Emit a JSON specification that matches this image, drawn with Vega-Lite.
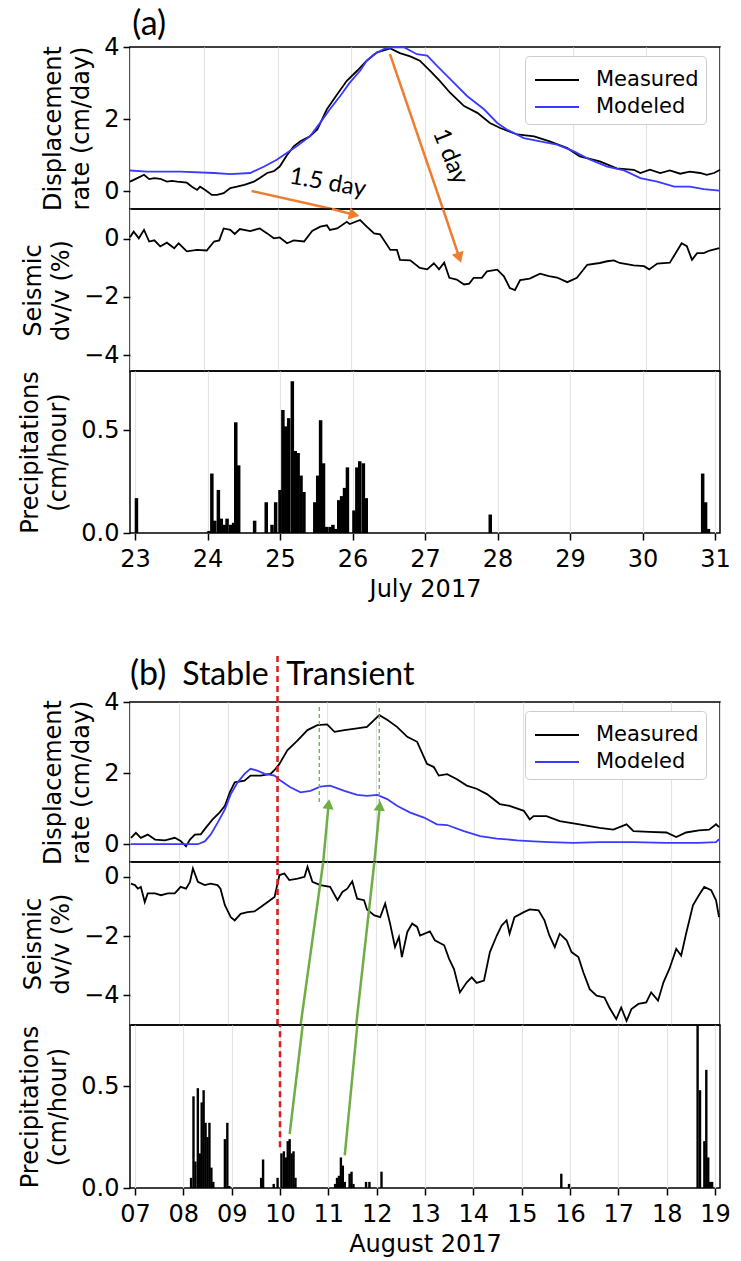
{
  "$schema": "https://vega.github.io/schema/vega-lite/v6.json",
  "padding": {"left": 18, "top": 7, "right": 8, "bottom": 5},
  "background": "white",
  "config": {
    "view": {"stroke": "black", "strokeWidth": 1.5},
    "axis": {"labelFont": "DejaVu Sans", "titleFont": "DejaVu Sans", "labelFontSize": 24, "titleFontSize": 24, "titleFontWeight": "normal", "labelColor": "black", "titleColor": "black", "tickColor": "black", "tickWidth": 1.5, "tickSize": 7, "domain": false, "gridColor": "#e3e3e3", "gridWidth": 1.2, "labelPadding": 4, "titlePadding": 10, "titleLineHeight": 28, "labelFlush": false},
    "legend": {"title": null, "orient": "none", "legendX": 395, "legendY": 9, "symbolType": "M-1.375,0H1.375", "symbolSize": 1024, "symbolStrokeWidth": 2, "symbolOffset": 8, "labelFont": "DejaVu Sans", "labelFontSize": 21, "labelColor": "black", "labelOffset": 22, "padding": 7, "rowPadding": 0, "strokeColor": "#cccccc", "fillColor": "white", "cornerRadius": 4},
    "text": {"font": "Lato"}
  },
  "datasets": {
    "dispA_meas": [{"t":23.00,"v":0.26},{"t":23.05,"v":0.31},{"t":23.12,"v":0.38},{"t":23.19,"v":0.45},{"t":23.26,"v":0.33},{"t":23.33,"v":0.36},{"t":23.41,"v":0.34},{"t":23.50,"v":0.26},{"t":23.57,"v":0.28},{"t":23.64,"v":0.26},{"t":23.77,"v":0.23},{"t":23.84,"v":0.12},{"t":23.91,"v":0.03},{"t":23.95,"v":0.12},{"t":24.02,"v":0.03},{"t":24.11,"v":-0.11},{"t":24.18,"v":-0.11},{"t":24.27,"v":-0.06},{"t":24.36,"v":0.08},{"t":24.45,"v":0.12},{"t":24.55,"v":0.17},{"t":24.68,"v":0.26},{"t":24.76,"v":0.36},{"t":24.86,"v":0.50},{"t":24.95,"v":0.55},{"t":25.03,"v":0.68},{"t":25.13,"v":1.00},{"t":25.22,"v":1.24},{"t":25.31,"v":1.38},{"t":25.44,"v":1.52},{"t":25.54,"v":1.71},{"t":25.67,"v":2.27},{"t":25.81,"v":2.69},{"t":25.94,"v":3.06},{"t":26.08,"v":3.34},{"t":26.21,"v":3.62},{"t":26.35,"v":3.85},{"t":26.53,"v":3.96},{"t":26.66,"v":3.83},{"t":26.80,"v":3.74},{"t":26.93,"v":3.62},{"t":27.07,"v":3.34},{"t":27.20,"v":3.06},{"t":27.34,"v":2.73},{"t":27.53,"v":2.36},{"t":27.71,"v":2.17},{"t":27.88,"v":1.89},{"t":28.02,"v":1.75},{"t":28.25,"v":1.57},{"t":28.48,"v":1.52},{"t":28.69,"v":1.38},{"t":28.93,"v":1.19},{"t":29.10,"v":0.96},{"t":29.37,"v":0.82},{"t":29.60,"v":0.63},{"t":29.83,"v":0.59},{"t":29.92,"v":0.50},{"t":30.05,"v":0.59},{"t":30.19,"v":0.50},{"t":30.32,"v":0.57},{"t":30.46,"v":0.48},{"t":30.59,"v":0.54},{"t":30.73,"v":0.50},{"t":30.82,"v":0.45},{"t":30.92,"v":0.50},{"t":31.00,"v":0.59}],
    "dispA_mod": [{"t":23.00,"v":0.57},{"t":23.23,"v":0.54},{"t":23.68,"v":0.54},{"t":24.14,"v":0.50},{"t":24.36,"v":0.47},{"t":24.63,"v":0.50},{"t":24.82,"v":0.68},{"t":24.99,"v":0.87},{"t":25.13,"v":1.06},{"t":25.26,"v":1.24},{"t":25.44,"v":1.52},{"t":25.58,"v":1.90},{"t":25.71,"v":2.27},{"t":25.85,"v":2.64},{"t":25.98,"v":3.01},{"t":26.12,"v":3.34},{"t":26.21,"v":3.62},{"t":26.31,"v":3.80},{"t":26.44,"v":3.94},{"t":26.58,"v":4.0},{"t":26.72,"v":3.99},{"t":26.89,"v":3.80},{"t":27.03,"v":3.76},{"t":27.16,"v":3.48},{"t":27.39,"v":3.01},{"t":27.57,"v":2.64},{"t":27.80,"v":2.27},{"t":27.98,"v":1.89},{"t":28.11,"v":1.71},{"t":28.34,"v":1.47},{"t":28.56,"v":1.38},{"t":28.79,"v":1.29},{"t":29.02,"v":1.10},{"t":29.24,"v":0.87},{"t":29.47,"v":0.68},{"t":29.70,"v":0.57},{"t":29.92,"v":0.36},{"t":30.15,"v":0.26},{"t":30.38,"v":0.12},{"t":30.59,"v":0.12},{"t":30.78,"v":0.05},{"t":30.99,"v":0.01}],
    "dvvA": [{"t":23.00,"v":0.06},{"t":23.05,"v":0.25},{"t":23.12,"v":0.02},{"t":23.19,"v":0.31},{"t":23.26,"v":-0.09},{"t":23.33,"v":-0.05},{"t":23.41,"v":-0.26},{"t":23.50,"v":-0.13},{"t":23.60,"v":-0.32},{"t":23.66,"v":-0.15},{"t":23.77,"v":-0.43},{"t":23.91,"v":-0.38},{"t":24.04,"v":-0.40},{"t":24.14,"v":-0.09},{"t":24.21,"v":-0.05},{"t":24.27,"v":0.36},{"t":24.36,"v":0.31},{"t":24.42,"v":0.17},{"t":24.49,"v":0.34},{"t":24.63,"v":0.27},{"t":24.76,"v":0.36},{"t":24.86,"v":0.19},{"t":24.95,"v":0.02},{"t":25.03,"v":0.05},{"t":25.13,"v":-0.15},{"t":25.22,"v":-0.05},{"t":25.36,"v":-0.09},{"t":25.47,"v":0.27},{"t":25.58,"v":0.42},{"t":25.67,"v":0.47},{"t":25.71,"v":0.31},{"t":25.81,"v":0.36},{"t":25.94,"v":0.59},{"t":25.98,"v":0.51},{"t":26.12,"v":0.65},{"t":26.21,"v":0.42},{"t":26.31,"v":0.19},{"t":26.39,"v":0.16},{"t":26.53,"v":-0.38},{"t":26.62,"v":-0.38},{"t":26.66,"v":-0.72},{"t":26.80,"v":-0.74},{"t":26.93,"v":-1.00},{"t":27.03,"v":-1.05},{"t":27.12,"v":-0.84},{"t":27.19,"v":-1.05},{"t":27.26,"v":-0.82},{"t":27.33,"v":-1.34},{"t":27.43,"v":-1.40},{"t":27.53,"v":-1.57},{"t":27.60,"v":-1.54},{"t":27.66,"v":-1.34},{"t":27.77,"v":-1.34},{"t":27.84,"v":-1.12},{"t":27.98,"v":-1.06},{"t":28.07,"v":-1.29},{"t":28.15,"v":-1.69},{"t":28.22,"v":-1.76},{"t":28.29,"v":-1.42},{"t":28.42,"v":-1.37},{"t":28.56,"v":-1.20},{"t":28.68,"v":-1.28},{"t":28.79,"v":-1.33},{"t":28.93,"v":-1.49},{"t":29.06,"v":-1.34},{"t":29.20,"v":-0.89},{"t":29.37,"v":-0.83},{"t":29.47,"v":-0.77},{"t":29.56,"v":-0.74},{"t":29.64,"v":-0.83},{"t":29.83,"v":-0.91},{"t":29.97,"v":-0.94},{"t":30.04,"v":-1.05},{"t":30.15,"v":-0.85},{"t":30.32,"v":-0.82},{"t":30.48,"v":-0.15},{"t":30.55,"v":-0.25},{"t":30.62,"v":-0.72},{"t":30.69,"v":-0.49},{"t":30.78,"v":-0.49},{"t":30.86,"v":-0.40},{"t":30.99,"v":-0.32}],
    "precA": [{"t":23.02,"v":0.17},{"t":24.02,"v":0.01},{"t":24.06,"v":0.29},{"t":24.10,"v":0.06},{"t":24.15,"v":0.21},{"t":24.19,"v":0.07},{"t":24.23,"v":0.04},{"t":24.27,"v":0.07},{"t":24.32,"v":0.04},{"t":24.36,"v":0.05},{"t":24.39,"v":0.54},{"t":24.43,"v":0.33},{"t":24.65,"v":0.06},{"t":24.81,"v":0.15},{"t":24.89,"v":0.04},{"t":24.94,"v":0.15},{"t":25.00,"v":0.21},{"t":25.04,"v":0.60},{"t":25.08,"v":0.52},{"t":25.12,"v":0.56},{"t":25.17,"v":0.74},{"t":25.21,"v":0.40},{"t":25.25,"v":0.39},{"t":25.29,"v":0.28},{"t":25.33,"v":0.20},{"t":25.48,"v":0.15},{"t":25.52,"v":0.28},{"t":25.56,"v":0.55},{"t":25.60,"v":0.34},{"t":25.64,"v":0.03},{"t":25.69,"v":0.03},{"t":25.73,"v":0.04},{"t":25.77,"v":0.02},{"t":25.81,"v":0.16},{"t":25.85,"v":0.18},{"t":25.89,"v":0.22},{"t":25.93,"v":0.32},{"t":26.02,"v":0.11},{"t":26.06,"v":0.32},{"t":26.10,"v":0.35},{"t":26.15,"v":0.34},{"t":26.19,"v":0.17},{"t":27.90,"v":0.09},{"t":30.83,"v":0.29},{"t":30.87,"v":0.15},{"t":30.91,"v":0.02}],
    "dispB_meas": [{"t":7.02,"v":0.18},{"t":7.12,"v":0.32},{"t":7.22,"v":0.18},{"t":7.36,"v":0.27},{"t":7.51,"v":0.13},{"t":7.71,"v":0.11},{"t":7.91,"v":0.18},{"t":8.03,"v":0.09},{"t":8.14,"v":-0.06},{"t":8.22,"v":0.13},{"t":8.32,"v":0.27},{"t":8.44,"v":0.28},{"t":8.54,"v":0.46},{"t":8.68,"v":0.70},{"t":8.82,"v":0.89},{"t":8.93,"v":1.08},{"t":9.03,"v":1.46},{"t":9.13,"v":1.74},{"t":9.33,"v":1.79},{"t":9.45,"v":1.93},{"t":9.66,"v":1.93},{"t":9.86,"v":1.98},{"t":9.96,"v":2.12},{"t":10.04,"v":2.26},{"t":10.20,"v":2.64},{"t":10.41,"v":2.92},{"t":10.61,"v":3.21},{"t":10.81,"v":3.35},{"t":11.01,"v":3.37},{"t":11.16,"v":3.16},{"t":11.36,"v":3.21},{"t":11.62,"v":3.26},{"t":11.82,"v":3.30},{"t":12.07,"v":3.63},{"t":12.23,"v":3.50},{"t":12.43,"v":3.30},{"t":12.64,"v":3.02},{"t":12.84,"v":2.88},{"t":13.04,"v":2.26},{"t":13.18,"v":2.17},{"t":13.28,"v":1.93},{"t":13.45,"v":1.97},{"t":13.65,"v":1.83},{"t":13.85,"v":1.65},{"t":14.05,"v":1.56},{"t":14.26,"v":1.41},{"t":14.52,"v":1.13},{"t":14.72,"v":1.08},{"t":15.01,"v":0.94},{"t":15.13,"v":0.70},{"t":15.21,"v":0.79},{"t":15.47,"v":0.79},{"t":15.74,"v":0.65},{"t":16.14,"v":0.56},{"t":16.55,"v":0.46},{"t":16.83,"v":0.41},{"t":17.10,"v":0.56},{"t":17.24,"v":0.37},{"t":17.56,"v":0.35},{"t":17.91,"v":0.33},{"t":18.11,"v":0.20},{"t":18.31,"v":0.33},{"t":18.57,"v":0.39},{"t":18.78,"v":0.41},{"t":18.92,"v":0.56},{"t":18.98,"v":0.48}],
    "dispB_mod": [{"t":7.02,"v":0.0},{"t":8.38,"v":0.0},{"t":8.52,"v":0.08},{"t":8.64,"v":0.27},{"t":8.78,"v":0.60},{"t":8.93,"v":0.98},{"t":9.05,"v":1.41},{"t":9.19,"v":1.74},{"t":9.33,"v":1.98},{"t":9.45,"v":2.12},{"t":9.59,"v":2.07},{"t":9.74,"v":1.98},{"t":9.94,"v":1.93},{"t":10.06,"v":1.79},{"t":10.26,"v":1.60},{"t":10.47,"v":1.46},{"t":10.67,"v":1.50},{"t":10.87,"v":1.62},{"t":11.07,"v":1.65},{"t":11.36,"v":1.50},{"t":11.62,"v":1.39},{"t":11.82,"v":1.36},{"t":12.03,"v":1.39},{"t":12.23,"v":1.27},{"t":12.43,"v":1.08},{"t":12.70,"v":0.89},{"t":12.98,"v":0.75},{"t":13.24,"v":0.56},{"t":13.45,"v":0.54},{"t":13.79,"v":0.37},{"t":14.12,"v":0.23},{"t":14.46,"v":0.16},{"t":14.87,"v":0.11},{"t":15.21,"v":0.08},{"t":15.53,"v":0.06},{"t":16.02,"v":0.04},{"t":16.55,"v":0.06},{"t":17.24,"v":0.06},{"t":17.91,"v":0.04},{"t":18.57,"v":0.04},{"t":18.92,"v":0.06},{"t":18.98,"v":0.14}],
    "dvvB": [{"t":7.02,"v":-0.23},{"t":7.10,"v":-0.28},{"t":7.16,"v":-0.40},{"t":7.22,"v":-0.34},{"t":7.30,"v":-0.85},{"t":7.36,"v":-0.56},{"t":7.51,"v":-0.56},{"t":7.63,"v":-0.62},{"t":7.77,"v":-0.56},{"t":7.91,"v":-0.56},{"t":8.03,"v":-0.34},{"t":8.14,"v":-0.40},{"t":8.22,"v":-0.17},{"t":8.28,"v":0.28},{"t":8.38,"v":-0.17},{"t":8.52,"v":-0.28},{"t":8.64,"v":-0.23},{"t":8.78,"v":-0.28},{"t":8.84,"v":-0.40},{"t":8.93,"v":-0.96},{"t":9.05,"v":-1.36},{"t":9.13,"v":-1.47},{"t":9.25,"v":-1.25},{"t":9.39,"v":-1.19},{"t":9.53,"v":-1.17},{"t":9.66,"v":-1.02},{"t":9.80,"v":-0.85},{"t":9.94,"v":-0.68},{"t":10.04,"v":0.06},{"t":10.14,"v":0.11},{"t":10.24,"v":-0.11},{"t":10.41,"v":-0.06},{"t":10.55,"v":0.0},{"t":10.61,"v":0.34},{"t":10.71,"v":-0.17},{"t":10.87,"v":-0.28},{"t":11.07,"v":-0.34},{"t":11.22,"v":-0.79},{"t":11.32,"v":-0.51},{"t":11.42,"v":-0.40},{"t":11.52,"v":-0.15},{"t":11.62,"v":-0.74},{"t":11.76,"v":-0.79},{"t":11.82,"v":-1.10},{"t":11.97,"v":-1.30},{"t":12.09,"v":-1.36},{"t":12.19,"v":-0.90},{"t":12.29,"v":-1.58},{"t":12.39,"v":-2.37},{"t":12.47,"v":-2.03},{"t":12.53,"v":-2.71},{"t":12.64,"v":-1.86},{"t":12.74,"v":-1.58},{"t":12.84,"v":-1.69},{"t":12.90,"v":-1.98},{"t":13.10,"v":-1.84},{"t":13.20,"v":-2.14},{"t":13.39,"v":-2.31},{"t":13.49,"v":-2.77},{"t":13.59,"v":-3.11},{"t":13.71,"v":-3.90},{"t":13.85,"v":-3.56},{"t":13.95,"v":-3.39},{"t":14.05,"v":-3.58},{"t":14.20,"v":-3.50},{"t":14.32,"v":-2.54},{"t":14.46,"v":-1.98},{"t":14.56,"v":-1.64},{"t":14.66,"v":-1.47},{"t":14.72,"v":-1.92},{"t":14.82,"v":-1.36},{"t":15.01,"v":-1.19},{"t":15.13,"v":-1.10},{"t":15.31,"v":-1.13},{"t":15.43,"v":-1.47},{"t":15.53,"v":-1.98},{"t":15.64,"v":-2.37},{"t":15.74,"v":-1.92},{"t":15.88,"v":-2.14},{"t":15.98,"v":-2.54},{"t":16.12,"v":-2.71},{"t":16.22,"v":-3.22},{"t":16.35,"v":-3.79},{"t":16.49,"v":-4.01},{"t":16.65,"v":-4.07},{"t":16.75,"v":-4.41},{"t":16.89,"v":-4.80},{"t":16.99,"v":-4.41},{"t":17.10,"v":-4.86},{"t":17.20,"v":-4.46},{"t":17.34,"v":-4.29},{"t":17.50,"v":-4.24},{"t":17.60,"v":-3.90},{"t":17.74,"v":-4.18},{"t":17.85,"v":-3.56},{"t":17.97,"v":-3.11},{"t":18.11,"v":-2.43},{"t":18.21,"v":-2.66},{"t":18.31,"v":-1.92},{"t":18.45,"v":-0.96},{"t":18.57,"v":-0.62},{"t":18.68,"v":-0.34},{"t":18.82,"v":-0.45},{"t":18.92,"v":-0.79},{"t":18.98,"v":-1.36}],
    "precB": [{"t":8.16,"v":0.05},{"t":8.21,"v":0.45},{"t":8.25,"v":0.13},{"t":8.30,"v":0.49},{"t":8.34,"v":0.17},{"t":8.38,"v":0.42},{"t":8.42,"v":0.48},{"t":8.46,"v":0.32},{"t":8.50,"v":0.25},{"t":8.54,"v":0.32},{"t":8.58,"v":0.10},{"t":8.62,"v":0.03},{"t":8.86,"v":0.24},{"t":8.91,"v":0.32},{"t":8.95,"v":0.01},{"t":9.61,"v":0.05},{"t":9.65,"v":0.14},{"t":9.87,"v":0.02},{"t":9.95,"v":0.05},{"t":10.03,"v":0.17},{"t":10.08,"v":0.18},{"t":10.12,"v":0.15},{"t":10.16,"v":0.23},{"t":10.20,"v":0.24},{"t":10.24,"v":0.17},{"t":10.28,"v":0.18},{"t":10.32,"v":0.05},{"t":11.14,"v":0.02},{"t":11.18,"v":0.05},{"t":11.22,"v":0.06},{"t":11.26,"v":0.15},{"t":11.30,"v":0.11},{"t":11.34,"v":0.03},{"t":11.44,"v":0.07},{"t":11.48,"v":0.08},{"t":11.52,"v":0.02},{"t":11.78,"v":0.03},{"t":11.85,"v":0.03},{"t":12.10,"v":0.08},{"t":15.82,"v":0.07},{"t":15.98,"v":0.02},{"t":18.64,"v":0.80},{"t":18.69,"v":0.48},{"t":18.78,"v":0.23},{"t":18.82,"v":0.58},{"t":18.86,"v":0.15},{"t":18.90,"v":0.03},{"t":18.94,"v":0.03}]
  },
  "spacing": 48,
  "resolve": {"scale": {"color": "independent"}, "legend": {"color": "independent"}},
  "vconcat": [
    {
      "spacing": 0,
      "bounds": "flush",
      "resolve": {"scale": {"color": "independent"}, "legend": {"color": "independent"}},
      "vconcat": [
        {
          "width": 590, "height": 162,
          "layer": [
            {
              "data": {"name": "dispA_meas"},
              "mark": {"type": "line", "strokeWidth": 1.8},
              "encoding": {
                "x": {"field": "t", "type": "quantitative", "scale": {"domain": [23, 31], "nice": false}, "axis": {"values": [23,24,25,26,27,28,29,30,31], "labels": false, "ticks": false, "title": null, "grid": true}},
                "y": {"field": "v", "type": "quantitative", "scale": {"domain": [-0.5, 4.0], "nice": false, "zero": false}, "axis": {"values": [0, 2, 4], "title": ["Displacement", "rate (cm/day)"], "grid": false}},
                "color": {"datum": "Measured", "type": "nominal", "scale": {"domain": ["Measured", "Modeled"], "range": ["black", "#3a3aff"]}}
              }
            },
            {
              "data": {"name": "dispA_mod"},
              "mark": {"type": "line", "strokeWidth": 1.8},
              "encoding": {
                "x": {"field": "t", "type": "quantitative"},
                "y": {"field": "v", "type": "quantitative"},
                "color": {"datum": "Modeled", "type": "nominal"}
              }
            },
            {
              "data": {"values": [{"t": 24.65, "v": 0.0, "t2": 25.74, "v2": -0.5}, {"t": 26.525, "v": 3.80, "t2": 27.244, "v2": -0.5}]},
              "mark": {"type": "rule", "color": "#ED7D31", "strokeWidth": 2.5},
              "encoding": {"x": {"field": "t", "type": "quantitative"}, "y": {"field": "v", "type": "quantitative"}, "x2": {"field": "t2"}, "y2": {"field": "v2"}}
            },
            {
              "data": {"values": [{"t": 25.68, "v": 0.22, "label": "1.5 day"}]},
              "mark": {"type": "text", "font": "Lato", "fontSize": 24, "angle": 10, "color": "black", "align": "center", "baseline": "middle"},
              "encoding": {"x": {"field": "t", "type": "quantitative"}, "y": {"field": "v", "type": "quantitative"}, "text": {"field": "label"}}
            },
            {
              "data": {"values": [{"t": 27.34, "v": 0.95, "label": "1 day"}]},
              "mark": {"type": "text", "font": "Lato", "fontSize": 24, "angle": 68, "color": "black", "align": "center", "baseline": "middle"},
              "encoding": {"x": {"field": "t", "type": "quantitative"}, "y": {"field": "v", "type": "quantitative"}, "text": {"field": "label"}}
            },
            {
              "data": {"values": [{"t": 23.03, "v": 4.34, "label": "(a)"}]},
              "mark": {"type": "text", "font": "Lato", "fontSize": 34, "color": "black", "align": "left", "baseline": "alphabetic"},
              "encoding": {"x": {"field": "t", "type": "quantitative"}, "y": {"field": "v", "type": "quantitative"}, "text": {"field": "label"}}
            }
          ]
        },
        {
          "width": 590, "height": 162,
          "layer": [
            {
              "data": {"name": "dvvA"},
              "mark": {"type": "line", "strokeWidth": 1.8, "color": "black"},
              "encoding": {
                "x": {"field": "t", "type": "quantitative", "scale": {"domain": [23, 31], "nice": false}, "axis": {"values": [23,24,25,26,27,28,29,30,31], "labels": false, "ticks": false, "title": null, "grid": true}},
                "y": {"field": "v", "type": "quantitative", "scale": {"domain": [-4.55, 1.03], "nice": false, "zero": false}, "axis": {"values": [0, -2, -4], "title": ["Seismic", "dv/v (%)"], "grid": false}}
              }
            },
            {
              "data": {"values": [{"t": 25.74, "v": 1.03, "t2": 26.04, "v2": 0.83}, {"t": 27.244, "v": 1.03, "t2": 27.466, "v2": -0.65}]},
              "mark": {"type": "rule", "color": "#ED7D31", "strokeWidth": 2.5},
              "encoding": {"x": {"field": "t", "type": "quantitative"}, "y": {"field": "v", "type": "quantitative"}, "x2": {"field": "t2"}, "y2": {"field": "v2"}}
            },
            {
              "data": {"values": [{"t": 26.04, "v": 0.83, "heading": 103}, {"t": 27.466, "v": -0.65, "heading": 161}]},
              "mark": {"type": "point", "shape": "triangle-up", "filled": true, "size": 150, "color": "#ED7D31", "opacity": 1},
              "encoding": {"x": {"field": "t", "type": "quantitative"}, "y": {"field": "v", "type": "quantitative"}, "angle": {"field": "heading", "type": "quantitative", "scale": null}}
            }
          ]
        },
        {
          "width": 590, "height": 162,
          "data": {"name": "precA"},
          "mark": {"type": "bar", "orient": "vertical", "width": 3.5, "color": "black"},
          "encoding": {
            "x": {"field": "t", "type": "quantitative", "scale": {"domain": [23, 31], "nice": false}, "axis": {"values": [23,24,25,26,27,28,29,30,31], "format": "d", "title": "July 2017", "grid": true, "labelPadding": 7, "titlePadding": 6}},
            "y": {"field": "v", "type": "quantitative", "scale": {"domain": [0, 0.79], "nice": false}, "axis": {"values": [0, 0.5], "format": ".1f", "title": ["Precipitations", "(cm/hour)"], "grid": false}}
          }
        }
      ]
    },
    {
      "spacing": 0,
      "bounds": "flush",
      "resolve": {"scale": {"color": "independent"}, "legend": {"color": "independent"}},
      "vconcat": [
        {
          "width": 590, "height": 160,
          "layer": [
            {
              "data": {"name": "dispB_meas"},
              "mark": {"type": "line", "strokeWidth": 1.8},
              "encoding": {
                "x": {"field": "t", "type": "quantitative", "scale": {"domain": [7, 19], "nice": false}, "axis": {"values": [7,8,9,10,11,12,13,14,15,16,17,18,19], "labels": false, "ticks": false, "title": null, "grid": true}},
                "y": {"field": "v", "type": "quantitative", "scale": {"domain": [-0.5, 4.0], "nice": false, "zero": false}, "axis": {"values": [0, 2, 4], "title": ["Displacement", "rate (cm/day)"], "grid": false}},
                "color": {"datum": "Measured", "type": "nominal", "scale": {"domain": ["Measured", "Modeled"], "range": ["black", "#3a3aff"]}}
              }
            },
            {
              "data": {"name": "dispB_mod"},
              "mark": {"type": "line", "strokeWidth": 1.8},
              "encoding": {
                "x": {"field": "t", "type": "quantitative"},
                "y": {"field": "v", "type": "quantitative"},
                "color": {"datum": "Modeled", "type": "nominal"}
              }
            },
            {
              "data": {"values": [{"t": 10.0, "v": -0.5, "v2": 5.39}]},
              "mark": {"type": "rule", "color": "#e01a1a", "strokeWidth": 2.5, "strokeDash": [6, 4]},
              "encoding": {"x": {"field": "t", "type": "quantitative"}, "y": {"field": "v", "type": "quantitative"}, "y2": {"field": "v2"}}
            },
            {
              "data": {"values": [{"t": 10.85, "v": 3.86, "v2": 1.19}, {"t": 12.07, "v": 3.83, "v2": 1.13}]},
              "mark": {"type": "rule", "color": "#70AD47", "strokeWidth": 1.3, "strokeDash": [4, 3]},
              "encoding": {"x": {"field": "t", "type": "quantitative"}, "y": {"field": "v", "type": "quantitative"}, "y2": {"field": "v2"}}
            },
            {
              "data": {"values": [{"t": 10.93, "v": -0.5, "t2": 11.04, "v2": 1.13}, {"t": 11.97, "v": -0.5, "t2": 12.08, "v2": 1.08}]},
              "mark": {"type": "rule", "color": "#70AD47", "strokeWidth": 2.5},
              "encoding": {"x": {"field": "t", "type": "quantitative"}, "y": {"field": "v", "type": "quantitative"}, "x2": {"field": "t2"}, "y2": {"field": "v2"}}
            },
            {
              "data": {"values": [{"t": 11.04, "v": 1.13, "heading": 7}, {"t": 12.08, "v": 1.08, "heading": 6}]},
              "mark": {"type": "point", "shape": "triangle-up", "filled": true, "size": 130, "color": "#70AD47", "opacity": 1},
              "encoding": {"x": {"field": "t", "type": "quantitative"}, "y": {"field": "v", "type": "quantitative"}, "angle": {"field": "heading", "type": "quantitative", "scale": null}}
            },
            {
              "data": {"values": [{"t": 7.0, "v": 4.48, "label": "(b)"}]},
              "mark": {"type": "text", "font": "Lato", "fontSize": 34, "color": "black", "baseline": "alphabetic", "align": "left"},
              "encoding": {"x": {"field": "t", "type": "quantitative"}, "y": {"field": "v", "type": "quantitative"}, "text": {"field": "label"}}
            },
            {
              "data": {"values": [{"t": 9.82, "v": 4.48, "label": "Stable"}]},
              "mark": {"type": "text", "font": "Lato", "fontSize": 32, "color": "black", "baseline": "alphabetic", "align": "right"},
              "encoding": {"x": {"field": "t", "type": "quantitative"}, "y": {"field": "v", "type": "quantitative"}, "text": {"field": "label"}}
            },
            {
              "data": {"values": [{"t": 10.18, "v": 4.48, "label": "Transient"}]},
              "mark": {"type": "text", "font": "Lato", "fontSize": 32, "color": "black", "baseline": "alphabetic", "align": "left"},
              "encoding": {"x": {"field": "t", "type": "quantitative"}, "y": {"field": "v", "type": "quantitative"}, "text": {"field": "label"}}
            }
          ]
        },
        {
          "width": 590, "height": 163,
          "layer": [
            {
              "data": {"name": "dvvB"},
              "mark": {"type": "line", "strokeWidth": 1.8, "color": "black"},
              "encoding": {
                "x": {"field": "t", "type": "quantitative", "scale": {"domain": [7, 19], "nice": false}, "axis": {"values": [7,8,9,10,11,12,13,14,15,16,17,18,19], "labels": false, "ticks": false, "title": null, "grid": true}},
                "y": {"field": "v", "type": "quantitative", "scale": {"domain": [-5.0, 0.5], "nice": false, "zero": false}, "axis": {"values": [0, -2, -4], "title": ["Seismic", "dv/v (%)"], "grid": false}}
              }
            },
            {
              "data": {"values": [{"t": 10.0, "v": -5.0, "v2": 0.5}]},
              "mark": {"type": "rule", "color": "#e01a1a", "strokeWidth": 2.5, "strokeDash": [6, 4]},
              "encoding": {"x": {"field": "t", "type": "quantitative"}, "y": {"field": "v", "type": "quantitative"}, "y2": {"field": "v2"}}
            },
            {
              "data": {"values": [{"t": 10.47, "v": -5.0, "t2": 10.93, "v2": 0.5}, {"t": 11.60, "v": -5.0, "t2": 11.97, "v2": 0.5}]},
              "mark": {"type": "rule", "color": "#70AD47", "strokeWidth": 2.5},
              "encoding": {"x": {"field": "t", "type": "quantitative"}, "y": {"field": "v", "type": "quantitative"}, "x2": {"field": "t2"}, "y2": {"field": "v2"}}
            }
          ]
        },
        {
          "width": 590, "height": 163,
          "layer": [
            {
              "data": {"name": "precB"},
              "mark": {"type": "bar", "orient": "vertical", "width": 2.4, "color": "black"},
              "encoding": {
                "x": {"field": "t", "type": "quantitative", "scale": {"domain": [7, 19], "nice": false}, "axis": {"values": [7,8,9,10,11,12,13,14,15,16,17,18,19], "format": "02d", "title": "August 2017", "grid": true, "labelPadding": 7, "titlePadding": 6}},
                "y": {"field": "v", "type": "quantitative", "scale": {"domain": [0, 0.8], "nice": false}, "axis": {"values": [0, 0.5], "format": ".1f", "title": ["Precipitations", "(cm/hour)"], "grid": false}}
              }
            },
            {
              "data": {"values": [{"t": 10.0, "v": 0.2, "v2": 0.8}]},
              "mark": {"type": "rule", "color": "#e01a1a", "strokeWidth": 2.5, "strokeDash": [6, 4]},
              "encoding": {"x": {"field": "t", "type": "quantitative"}, "y": {"field": "v", "type": "quantitative"}, "y2": {"field": "v2"}}
            },
            {
              "data": {"values": [{"t": 10.20, "v": 0.265, "t2": 10.47, "v2": 0.8}, {"t": 11.34, "v": 0.16, "t2": 11.60, "v2": 0.8}]},
              "mark": {"type": "rule", "color": "#70AD47", "strokeWidth": 2.5},
              "encoding": {"x": {"field": "t", "type": "quantitative"}, "y": {"field": "v", "type": "quantitative"}, "x2": {"field": "t2"}, "y2": {"field": "v2"}}
            }
          ]
        }
      ]
    }
  ]
}
